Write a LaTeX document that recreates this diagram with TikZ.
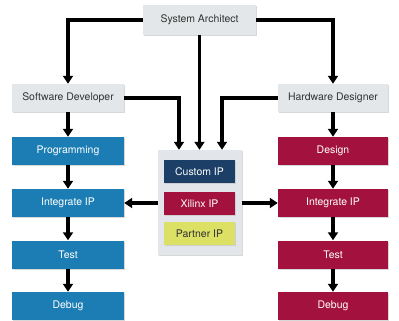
\documentclass[tikz,border=0pt]{standalone}
\usepackage{fontspec}
\setmainfont{TeX Gyre Heros}
\usetikzlibrary{arrows.meta,shadows}
\definecolor{swblue}{HTML}{1C7DB4}
\definecolor{hwred}{HTML}{A3123F}
\definecolor{navy}{HTML}{1B3F66}
\definecolor{lime}{HTML}{DCE064}
\definecolor{boxgray}{HTML}{E4E7E9}
\definecolor{panelgray}{HTML}{E2E6EA}
\definecolor{txtgray}{HTML}{333333}
\tikzset{
  base/.style={rectangle, inner sep=0pt, font=\fontsize{10.5}{12}\selectfont,
    drop shadow={shadow xshift=1.2bp, shadow yshift=-1.2bp, fill=black!25, opacity=0.6}},
  rolebox/.style={base, fill=boxgray, text=txtgray, minimum height=28bp},
  swbox/.style={base, fill=swblue, text=white, minimum width=112bp, minimum height=28bp},
  hwbox/.style={base, fill=hwred, text=white, minimum width=110bp, minimum height=28bp},
  ipbox/.style={base, minimum width=71bp, minimum height=23bp},
  conn/.style={line width=3.6bp, -{Triangle[width=10bp,length=8bp]}}
}
\begin{document}
\begin{tikzpicture}[x=1bp,y=-1bp]
\useasboundingbox (0,0) rectangle (399,321);
\fill[white] (0,0) rectangle (399,321);
% role boxes
\node[rolebox, minimum width=113bp, minimum height=30bp] (sa) at (199.5,20) {System Architect};
\node[rolebox, minimum width=112bp] (sd) at (68,98) {Software Developer};
\node[rolebox, minimum width=110bp] (hd) at (333,98) {Hardware Designer};
% software column
\node[swbox] (prog) at (68,151) {Programming};
\node[swbox] (swint) at (68,203) {Integrate IP};
\node[swbox] (swtest) at (68,254.5) {Test};
\node[swbox] (swdbg) at (68,306) {Debug};
% hardware column
\node[hwbox] (design) at (333,151) {Design};
\node[hwbox] (hwint) at (333,203) {Integrate IP};
\node[hwbox] (hwtest) at (333,254.5) {Test};
\node[hwbox] (hwdbg) at (333,306) {Debug};
% IP panel
\node[base, fill=panelgray, minimum width=84bp, minimum height=105bp] (panel) at (200,202.5) {};
\node[ipbox, fill=navy, text=white] (custom) at (199.5,171.5) {Custom IP};
\node[ipbox, fill=hwred, text=white] (xilinx) at (199.5,203.5) {Xilinx IP};
\node[ipbox, fill=lime, text=txtgray] (partner) at (199.5,233.5) {Partner IP};
% connectors
\draw[conn] (sa.west) -| (sd.north);
\draw[conn] (sa.east) -| (hd.north);
\draw[conn] (sa.south) -- (sa.south |- panel.north);
\draw[conn] (sd.east) -| ([xshift=-21bp]panel.north);
\draw[conn] (hd.west) -| ([xshift=22bp]panel.north);
\draw[conn] (sd) -- (prog);
\draw[conn] (prog) -- (swint);
\draw[conn] (swint) -- (swtest);
\draw[conn] (swtest) -- (swdbg);
\draw[conn] (hd) -- (design);
\draw[conn] (design) -- (hwint);
\draw[conn] (hwint) -- (hwtest);
\draw[conn] (hwtest) -- (hwdbg);
\draw[conn] (panel.west |- swint.east) -- (swint.east);
\draw[conn] (panel.east |- hwint.west) -- (hwint.west);
\end{tikzpicture}
\end{document}
